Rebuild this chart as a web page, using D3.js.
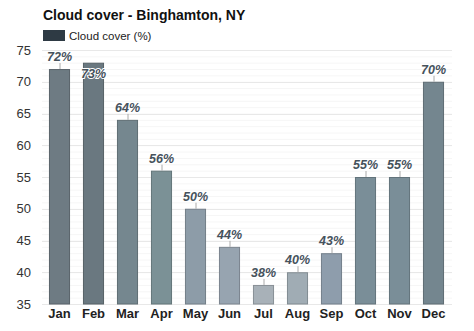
<!DOCTYPE html>
<html><head><meta charset="utf-8">
<script src="https://cdn.jsdelivr.net/npm/d3@7"></script>
<style>body{margin:0;background:#fff;}svg{display:block;font-family:"Liberation Sans",Arial,sans-serif;}</style>
</head><body><svg id="c" width="474" height="331"></svg>
<script>
const months = ["Jan","Feb","Mar","Apr","May","Jun","Jul","Aug","Sep","Oct","Nov","Dec"];
const cloudCover = [72,73,64,56,50,44,38,40,43,55,55,70];
const barColors = ["#6e7b83","#6a7880","#75878f","#7b9196","#8d9ca8","#97a4b0","#a8b1b8","#a0acb4","#8e9dac","#7a8e98","#7a8e98","#74868f"];
const yTicks = [35,40,45,50,55,60,65,70,75];

const svg = d3.select("#c");
const x = d3.scaleBand().domain(months).range([42.5,450.5]).paddingInner(0.38).paddingOuter(0.19);
const y = d3.scaleLinear().domain([35,75]).range([304,50]);

// minor grid
svg.append("g").selectAll("line").data(d3.range(35,76,1)).join("line")
  .attr("x1",42).attr("x2",452).attr("y1",d=>y(d)+0.5).attr("y2",d=>y(d)+0.5)
  .attr("stroke","#f6f6f6");
// major grid
svg.append("g").selectAll("line").data(yTicks).join("line")
  .attr("x1",42).attr("x2",452).attr("y1",d=>Math.round(y(d))+0.5).attr("y2",d=>Math.round(y(d))+0.5)
  .attr("stroke","#e8e8e8");

// y axis labels
const yAxis = d3.axisLeft(y).tickValues(yTicks).tickSize(0).tickPadding(0);
const ya = svg.append("g").attr("transform","translate(31,0)").call(yAxis);
ya.select(".domain").remove();
ya.selectAll("text").attr("font-size",13).attr("fill","#333").attr("font-family","Liberation Sans, Arial, sans-serif");

// x axis labels
const xAxis = d3.axisBottom(x).tickSize(0).tickPadding(0);
const xa = svg.append("g").attr("transform","translate(0,309)").call(xAxis);
xa.select(".domain").remove();
xa.selectAll("text").attr("font-size",13).attr("font-weight","bold").attr("fill","#222").attr("font-family","Liberation Sans, Arial, sans-serif");

// bars
svg.append("g").selectAll("rect").data(months).join("rect")
  .attr("x",d=>x(d)+0.5).attr("width",x.bandwidth()-1)
  .attr("y",(d,i)=>y(cloudCover[i])+0.5).attr("height",(d,i)=>y(35)-y(cloudCover[i])-0.5)
  .attr("fill",(d,i)=>barColors[i]).attr("stroke",(d,i)=>d3.color(barColors[i]).darker(0.6)).attr("stroke-width",1);

// labels
const lab = svg.append("g");
months.forEach((m,i)=>{
  const cx = x(m)+x.bandwidth()/2;
  const top = y(cloudCover[i]);
  const inside = top - 20 < y(75) - 2;
  if(!inside){
    lab.append("line").attr("x1",cx+0.5).attr("x2",cx+0.5).attr("y1",top-6).attr("y2",top)
      .attr("stroke","#aaa").attr("stroke-width",1);
    lab.append("text").attr("x",cx).attr("y",top-8).attr("text-anchor","middle")
      .attr("font-size",12.5).attr("font-weight","bold").attr("font-style","italic").attr("fill","#46525c")
      .text(cloudCover[i]+"%");
  } else {
    lab.append("text").attr("x",cx).attr("y",top+15).attr("text-anchor","middle")
      .attr("font-size",12.5).attr("font-weight","bold").attr("font-style","italic").attr("fill","#46525c")
      .attr("stroke","#fff").attr("stroke-width",2).attr("paint-order","stroke")
      .text(cloudCover[i]+"%");
  }
});

// title
svg.append("text").attr("x",43).attr("y",20).attr("font-size",14).attr("font-weight","bold").attr("fill","#111")
  .text("Cloud cover - Binghamton, NY");
// legend
svg.append("rect").attr("x",43).attr("y",30).attr("width",22).attr("height",11).attr("fill","#2e3a44");
svg.append("text").attr("x",69).attr("y",40).attr("font-size",11.5).attr("fill","#222").text("Cloud cover (%)");
</script></body></html>
